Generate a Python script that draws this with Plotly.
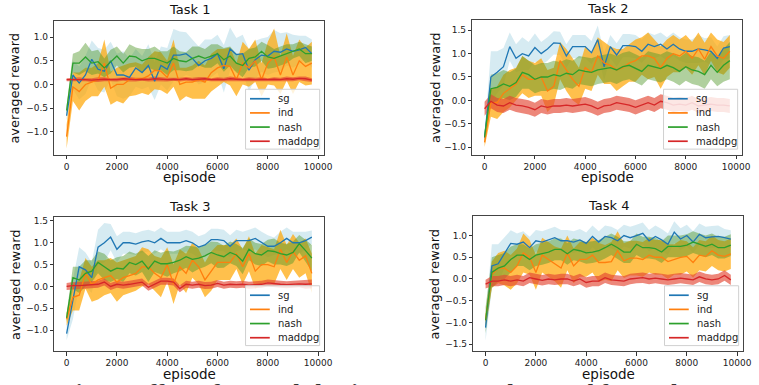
import plotly.graph_objects as go

episodes = list(range(0, 10000, 250))
series_names = ["sg", "ind", "nash", "maddpg"]
task_titles = ["Task 1", "Task 2", "Task 3", "Task 4"]
xtick_vals = [0, 2000, 4000, 6000, 8000, 10000]
xtick_text = ["0", "2000", "4000", "6000", "8000", "10000"]

# ---------------- Task 1 ----------------
t1_sg = [-0.66, 0.20, 0.03, 0.20, 0.53, 0.32, 0.28, 0.50, 0.20, 0.20, 0.15, 0.35, 0.25, 0.40, 0.07, 0.40, 0.32, 0.62, 0.62, 0.65,
         0.55, 0.40, 0.50, 0.55, 0.65, 0.33, 0.75, 0.63, 0.65, 0.30, 0.52, 0.62, 0.60, 0.70, 0.68, 0.75, 0.70, 0.73, 0.78, 0.65]
t1_sg_sd = [0.10, 0.30, 0.35, 0.40, 0.40, 0.45, 0.45, 0.40, 0.45, 0.50, 0.40, 0.40, 0.35, 0.45, 0.40, 0.40, 0.45, 0.55, 0.50, 0.45,
            0.40, 0.40, 0.45, 0.40, 0.40, 0.50, 0.45, 0.35, 0.40, 0.45, 0.40, 0.35, 0.40, 0.45, 0.40, 0.35, 0.35, 0.30, 0.25, 0.30]
t1_ind = [-1.10, -0.05, -0.15, 0.00, 0.05, 0.10, 0.45, -0.08, 0.00, 0.00, 0.10, 0.12, 0.12, 0.18, 0.30, 0.28, 0.15, 0.45, 0.00, 0.05,
          0.05, 0.10, 0.05, 0.25, 0.35, 0.40, 0.38, 0.10, 0.45, 0.35, 0.50, 0.10, 0.45, 0.58, 0.20, 0.58, 0.20, 0.50, 0.38, 0.45]
t1_ind_sd = [0.25, 0.30, 0.40, 0.35, 0.30, 0.35, 0.50, 0.35, 0.35, 0.40, 0.35, 0.35, 0.30, 0.40, 0.40, 0.40, 0.35, 0.50, 0.35, 0.30,
             0.35, 0.40, 0.35, 0.40, 0.40, 0.35, 0.40, 0.35, 0.45, 0.40, 0.45, 0.35, 0.45, 0.60, 0.40, 0.50, 0.40, 0.45, 0.40, 0.45]
t1_nash = [-0.55, 0.45, 0.45, 0.58, 0.45, 0.48, 0.35, 0.48, 0.60, 0.45, 0.60, 0.58, 0.50, 0.55, 0.55, 0.50, 0.45, 0.55, 0.50, 0.48,
           0.55, 0.60, 0.55, 0.60, 0.65, 0.52, 0.60, 0.45, 0.40, 0.55, 0.58, 0.70, 0.58, 0.55, 0.60, 0.65, 0.70, 0.75, 0.65, 0.65]
t1_nash_sd = [0.10, 0.20, 0.25, 0.30, 0.25, 0.25, 0.20, 0.25, 0.20, 0.20, 0.25, 0.20, 0.25, 0.20, 0.25, 0.20, 0.25, 0.25, 0.20, 0.20,
              0.25, 0.20, 0.20, 0.25, 0.20, 0.25, 0.20, 0.20, 0.25, 0.20, 0.20, 0.20, 0.25, 0.20, 0.20, 0.20, 0.15, 0.15, 0.20, 0.15]
t1_maddpg = [0.10, 0.10, 0.11, 0.10, 0.09, 0.10, 0.11, 0.10, 0.10, 0.12, 0.11, 0.10, 0.11, 0.10, 0.12, 0.11, 0.10, 0.11, 0.10, 0.12,
             0.10, 0.11, 0.12, 0.10, 0.11, 0.10, 0.12, 0.11, 0.10, 0.11, 0.10, 0.11, 0.10, 0.11, 0.10, 0.12, 0.11, 0.13, 0.12, 0.09]
t1_maddpg_sd = [0.03, 0.04, 0.04, 0.03, 0.04, 0.05, 0.04, 0.03, 0.04, 0.04, 0.05, 0.04, 0.03, 0.04, 0.05, 0.04, 0.04, 0.03, 0.04, 0.04,
                0.04, 0.05, 0.04, 0.03, 0.04, 0.04, 0.05, 0.04, 0.03, 0.04, 0.04, 0.04, 0.03, 0.04, 0.04, 0.05, 0.04, 0.04, 0.05, 0.04]

# ---------------- Task 2 ----------------
t2_sg = [-0.80, 0.50, 0.60, 0.72, 1.15, 0.90, 1.00, 0.95, 1.13, 1.00, 1.10, 1.23, 1.22, 0.95, 1.15, 1.15, 1.15, 1.02, 1.30, 0.72,
         1.15, 0.97, 1.17, 1.17, 1.15, 1.05, 1.20, 1.15, 1.20, 1.10, 1.20, 1.10, 1.05, 1.05, 1.10, 1.08, 1.05, 0.90, 1.12, 1.15]
t2_sg_sd = [0.10, 0.55, 0.45, 0.40, 0.30, 0.30, 0.35, 0.30, 0.30, 0.25, 0.25, 0.25, 0.25, 0.25, 0.25, 0.25, 0.25, 0.25, 0.30, 0.30,
            0.25, 0.25, 0.25, 0.25, 0.25, 0.25, 0.25, 0.25, 0.25, 0.25, 0.25, 0.25, 0.25, 0.25, 0.30, 0.25, 0.30, 0.25, 0.25, 0.25]
t2_ind = [-0.90, -0.05, -0.05, 0.15, 0.25, 0.35, 0.55, 0.45, 0.45, 0.50, 0.20, 0.30, 0.85, 0.65, 0.45, 0.30, 0.70, 0.60, 0.95, 0.80,
          0.75, 0.65, 0.70, 0.80, 0.85, 0.95, 0.95, 0.90, 0.70, 0.90, 1.00, 0.95, 1.05, 0.90, 1.10, 0.88, 1.15, 0.95, 0.90, 1.05]
t2_ind_sd = [0.10, 0.30, 0.35, 0.40, 0.40, 0.35, 0.40, 0.40, 0.35, 0.40, 0.45, 0.40, 0.40, 0.45, 0.45, 0.40, 0.45, 0.40, 0.40, 0.45,
             0.40, 0.45, 0.40, 0.40, 0.45, 0.40, 0.50, 0.40, 0.45, 0.40, 0.40, 0.35, 0.35, 0.35, 0.35, 0.35, 0.30, 0.35, 0.35, 0.35]
t2_nash = [-0.78, 0.25, 0.28, 0.35, 0.30, 0.38, 0.60, 0.55, 0.45, 0.50, 0.50, 0.55, 0.52, 0.58, 0.55, 0.65, 0.62, 0.60, 0.65, 0.68,
           0.70, 0.65, 0.72, 0.75, 0.68, 0.62, 0.75, 0.72, 0.68, 0.75, 0.70, 0.62, 0.72, 0.65, 0.62, 0.55, 0.75, 0.60, 0.75, 0.85]
t2_nash_sd = [0.10, 0.30, 0.30, 0.30, 0.30, 0.30, 0.35, 0.30, 0.30, 0.30, 0.30, 0.30, 0.30, 0.30, 0.30, 0.30, 0.30, 0.30, 0.30, 0.30,
              0.30, 0.30, 0.30, 0.30, 0.30, 0.30, 0.30, 0.30, 0.30, 0.30, 0.30, 0.30, 0.30, 0.30, 0.30, 0.30, 0.30, 0.30, 0.35, 0.40]
t2_maddpg = [-0.18, -0.02, -0.10, -0.12, -0.05, -0.10, -0.12, -0.15, -0.20, -0.12, -0.15, -0.12, -0.12, -0.10, -0.12, -0.10, -0.08, -0.12, -0.18, -0.12,
             -0.10, -0.05, -0.08, -0.10, -0.15, -0.10, -0.05, -0.10, -0.02, -0.05, -0.10, -0.08, -0.10, -0.05, -0.12, -0.10, -0.08, -0.10, -0.10, -0.12]
t2_maddpg_sd = [0.15, 0.15, 0.15, 0.15, 0.15, 0.15, 0.15, 0.15, 0.15, 0.15, 0.15, 0.15, 0.15, 0.15, 0.15, 0.15, 0.15, 0.15, 0.15, 0.15,
                0.15, 0.15, 0.15, 0.15, 0.15, 0.15, 0.15, 0.15, 0.15, 0.15, 0.15, 0.15, 0.15, 0.15, 0.15, 0.15, 0.15, 0.15, 0.15, 0.15]

# ---------------- Task 3 ----------------
t3_sg = [-1.08, -0.30, 0.45, 0.38, 0.20, 0.90, 1.00, 1.13, 0.85, 1.00, 1.00, 0.97, 1.02, 1.05, 1.00, 1.10, 1.00, 1.00, 1.00, 1.05,
         1.00, 0.90, 0.95, 1.07, 1.07, 1.05, 0.92, 1.05, 1.05, 1.05, 1.10, 1.00, 0.92, 0.92, 1.00, 1.10, 1.00, 1.00, 1.05, 1.13]
t3_sg_sd = [0.15, 0.45, 0.45, 0.40, 0.35, 0.40, 0.45, 0.30, 0.30, 0.25, 0.25, 0.25, 0.25, 0.25, 0.25, 0.25, 0.25, 0.25, 0.25, 0.25,
            0.25, 0.25, 0.25, 0.25, 0.25, 0.25, 0.25, 0.25, 0.20, 0.25, 0.25, 0.25, 0.25, 0.20, 0.25, 0.25, 0.25, 0.25, 0.20, 0.15]
t3_ind = [-0.75, -0.25, -0.20, 0.30, 0.05, 0.15, 0.20, 0.25, 0.10, 0.20, 0.25, 0.30, 0.45, 0.45, 0.30, 0.20, 0.50, 0.05, 0.45, 0.30,
          0.60, 0.45, 0.15, 0.35, 0.55, 0.55, 0.55, 0.75, 0.45, 0.75, 0.35, 0.50, 0.50, 0.45, 0.85, 0.55, 0.80, 0.60, 0.70, 0.30]
t3_ind_sd = [0.15, 0.30, 0.35, 0.35, 0.40, 0.45, 0.40, 0.40, 0.45, 0.40, 0.40, 0.40, 0.45, 0.40, 0.40, 0.45, 0.40, 0.45, 0.40, 0.45,
             0.40, 0.40, 0.40, 0.45, 0.40, 0.40, 0.40, 0.35, 0.40, 0.40, 0.40, 0.45, 0.40, 0.40, 0.45, 0.40, 0.40, 0.40, 0.40, 0.45]
t3_nash = [-0.72, 0.20, 0.15, 0.30, 0.35, 0.55, 0.45, 0.35, 0.42, 0.40, 0.55, 0.50, 0.58, 0.40, 0.58, 0.52, 0.52, 0.55, 0.60, 0.68,
           0.62, 0.65, 0.70, 0.78, 0.72, 0.68, 0.78, 0.72, 0.58, 0.85, 0.75, 0.72, 0.82, 0.80, 0.75, 0.72, 0.78, 0.98, 0.82, 0.65]
t3_nash_sd = [0.10, 0.25, 0.30, 0.30, 0.25, 0.25, 0.30, 0.25, 0.25, 0.30, 0.25, 0.25, 0.25, 0.30, 0.25, 0.25, 0.30, 0.25, 0.25, 0.25,
              0.30, 0.25, 0.25, 0.25, 0.30, 0.25, 0.25, 0.25, 0.30, 0.25, 0.25, 0.25, 0.25, 0.30, 0.25, 0.25, 0.25, 0.20, 0.25, 0.30]
t3_maddpg = [0.00, 0.02, 0.02, 0.03, 0.04, 0.05, 0.10, 0.00, 0.05, 0.03, 0.05, 0.07, 0.10, -0.02, 0.05, 0.12, 0.12, 0.10, -0.05, 0.05,
             0.03, 0.05, 0.02, 0.03, 0.07, 0.03, 0.05, 0.04, 0.05, 0.03, 0.04, 0.05, 0.08, 0.06, 0.05, 0.04, 0.05, 0.06, 0.05, 0.06]
t3_maddpg_sd = [0.08, 0.08, 0.08, 0.08, 0.08, 0.08, 0.08, 0.08, 0.08, 0.08, 0.08, 0.08, 0.08, 0.08, 0.08, 0.08, 0.08, 0.08, 0.08, 0.08,
                0.08, 0.08, 0.08, 0.08, 0.08, 0.08, 0.08, 0.08, 0.08, 0.08, 0.08, 0.08, 0.08, 0.08, 0.08, 0.08, 0.08, 0.08, 0.10, 0.10]

# ---------------- Task 4 ----------------
t4_sg = [-1.12, 0.30, 0.35, 0.60, 0.82, 0.80, 0.85, 0.72, 0.88, 0.85, 0.90, 0.95, 0.88, 0.88, 0.85, 0.90, 0.82, 0.98, 0.85, 0.98,
         0.95, 0.88, 1.00, 0.95, 1.00, 1.05, 0.88, 0.98, 0.90, 0.80, 1.08, 0.92, 1.00, 0.85, 1.03, 0.95, 0.97, 0.98, 0.95, 0.92]
t4_sg_sd = [0.30, 0.50, 0.45, 0.35, 0.30, 0.25, 0.25, 0.25, 0.25, 0.25, 0.25, 0.25, 0.25, 0.25, 0.25, 0.25, 0.25, 0.25, 0.25, 0.25,
            0.25, 0.25, 0.25, 0.25, 0.25, 0.25, 0.25, 0.25, 0.25, 0.25, 0.25, 0.25, 0.25, 0.25, 0.25, 0.25, 0.25, 0.25, 0.20, 0.20]
t4_ind = [-0.95, 0.10, 0.25, 0.25, 0.15, 0.30, 0.60, 0.50, 0.15, 0.55, 0.45, 0.35, 0.25, 0.60, 0.30, 0.45, 0.45, 0.55, 0.38, 0.38,
          0.40, 0.65, 0.42, 0.48, 0.48, 0.45, 0.55, 0.50, 0.50, 0.40, 0.45, 0.50, 0.52, 0.38, 0.55, 0.52, 0.65, 0.55, 0.52, 0.58]
t4_ind_sd = [0.15, 0.30, 0.35, 0.40, 0.40, 0.40, 0.45, 0.40, 0.40, 0.40, 0.40, 0.40, 0.45, 0.40, 0.40, 0.40, 0.40, 0.40, 0.45, 0.40,
             0.45, 0.45, 0.40, 0.40, 0.40, 0.40, 0.40, 0.40, 0.40, 0.40, 0.35, 0.40, 0.35, 0.35, 0.35, 0.35, 0.35, 0.35, 0.35, 0.35]
t4_nash = [-0.95, 0.15, 0.25, 0.30, 0.45, 0.55, 0.55, 0.45, 0.55, 0.58, 0.62, 0.68, 0.68, 0.58, 0.68, 0.65, 0.60, 0.62, 0.65, 0.72,
           0.80, 0.72, 0.62, 0.62, 0.80, 0.72, 0.72, 0.70, 0.62, 0.75, 0.75, 0.75, 0.78, 0.85, 0.80, 0.75, 0.80, 0.72, 0.72, 0.78]
t4_nash_sd = [0.30, 0.35, 0.30, 0.30, 0.30, 0.25, 0.25, 0.25, 0.25, 0.25, 0.25, 0.25, 0.25, 0.25, 0.25, 0.25, 0.25, 0.25, 0.25, 0.25,
              0.25, 0.25, 0.25, 0.25, 0.25, 0.25, 0.25, 0.25, 0.25, 0.25, 0.25, 0.25, 0.25, 0.25, 0.25, 0.25, 0.25, 0.25, 0.25, 0.25]
t4_maddpg = [-0.12, -0.05, -0.05, -0.02, -0.05, -0.02, -0.05, 0.03, 0.00, -0.03, 0.00, -0.02, 0.00, 0.00, -0.05, 0.00, -0.08, -0.05, -0.05, 0.03,
             -0.02, -0.03, -0.05, 0.00, 0.02, 0.03, 0.00, 0.02, 0.00, -0.02, 0.00, 0.02, 0.00, -0.02, 0.05, 0.00, -0.02, 0.00, 0.08, -0.02]
t4_maddpg_sd = [0.10, 0.12, 0.12, 0.12, 0.12, 0.12, 0.12, 0.12, 0.12, 0.12, 0.12, 0.12, 0.12, 0.12, 0.12, 0.12, 0.12, 0.12, 0.12, 0.12,
                0.12, 0.12, 0.12, 0.12, 0.12, 0.12, 0.12, 0.12, 0.12, 0.12, 0.12, 0.12, 0.12, 0.12, 0.12, 0.12, 0.12, 0.12, 0.12, 0.12]

tasks = [
    [(t1_sg, t1_sg_sd), (t1_ind, t1_ind_sd), (t1_nash, t1_nash_sd), (t1_maddpg, t1_maddpg_sd)],
    [(t2_sg, t2_sg_sd), (t2_ind, t2_ind_sd), (t2_nash, t2_nash_sd), (t2_maddpg, t2_maddpg_sd)],
    [(t3_sg, t3_sg_sd), (t3_ind, t3_ind_sd), (t3_nash, t3_nash_sd), (t3_maddpg, t3_maddpg_sd)],
    [(t4_sg, t4_sg_sd), (t4_ind, t4_ind_sd), (t4_nash, t4_nash_sd), (t4_maddpg, t4_maddpg_sd)],
]

caption = "Fig. 1: Effect of reward sharing on averaged reward for Tasks 1-4"

# ---------------- styling ----------------
W, H = 759, 385
line_colors = ["#1f77b4", "#ff7f0e", "#2ca02c", "#d62728"]
fill_colors = ["rgba(173,216,230,0.5)", "rgba(255,165,0,0.7)", "rgba(80,150,40,0.45)", "rgba(228,70,50,0.65)"]

# plot areas in pixels: (left, right, top, bottom)
boxes = [(55, 328, 20, 154), (478, 751, 19, 154), (55, 328, 217, 351), (479, 752, 216, 351)]
y_ranges = [[-1.48, 1.34], [-1.16, 1.72], [-1.48, 1.58], [-1.66, 1.44]]
y_ticks = [[-1.0, -0.5, 0.0, 0.5, 1.0], [-1.0, -0.5, 0.0, 0.5, 1.0, 1.5],
           [-1.0, -0.5, 0.0, 0.5, 1.0, 1.5], [-1.5, -1.0, -0.5, 0.0, 0.5, 1.0]]
ylabel_x = [15, 440, 15, 440]
x_range = [-487.5, 10237.5]
FONT = "DejaVu Sans"


def px(x):
    return x / W


def py(y):
    return 1 - y / H


fig = go.Figure()
layout = dict(
    width=W, height=H, margin=dict(l=0, r=0, t=0, b=0),
    paper_bgcolor="white", plot_bgcolor="white", showlegend=False,
    font=dict(family=FONT, color="#222"),
)
annotations = []
shapes = []

for i, series in enumerate(tasks):
    l, r, t, b = boxes[i]
    xa = "xaxis" if i == 0 else f"xaxis{i+1}"
    ya = "yaxis" if i == 0 else f"yaxis{i+1}"
    xref = "x" if i == 0 else f"x{i+1}"
    yref = "y" if i == 0 else f"y{i+1}"

    for k, (mean, sd) in enumerate(series):
        upper = [m + s for m, s in zip(mean, sd)]
        lower = [m - s for m, s in zip(mean, sd)]
        fig.add_trace(go.Scatter(
            x=episodes + episodes[::-1], y=upper + lower[::-1],
            fill="toself", fillcolor=fill_colors[k], line=dict(width=0),
            mode="lines", hoverinfo="skip", showlegend=False,
            xaxis=xref, yaxis=yref,
        ))
    for k, (mean, sd) in enumerate(series):
        fig.add_trace(go.Scatter(
            x=episodes, y=mean, mode="lines", name=series_names[k],
            line=dict(color=line_colors[k], width=1.3),
            xaxis=xref, yaxis=yref, showlegend=False,
        ))

    layout[xa] = dict(
        domain=[px(l), px(r)], anchor=yref, range=x_range,
        tickvals=xtick_vals, ticktext=xtick_text, ticks="outside", ticklen=3.5, tickwidth=0.8, tickcolor="#333",
        showgrid=False, zeroline=False, showline=True, linecolor="#444", linewidth=0.9, mirror=True,
        tickfont=dict(size=9, family=FONT, color="#222"),
    )
    layout[ya] = dict(
        domain=[py(b), py(t)], anchor=xref, range=y_ranges[i],
        tickvals=y_ticks[i], tickformat=".1f", ticks="outside", ticklen=3.5, tickwidth=0.8, tickcolor="#333",
        showgrid=False, zeroline=False, showline=True, linecolor="#444", linewidth=0.9, mirror=True,
        tickfont=dict(size=9, family=FONT, color="#222"),
    )
    # subplot title
    annotations.append(dict(
        text=task_titles[i], x=px((l + r) / 2), y=py(t - 11),
        xref="paper", yref="paper", xanchor="center", yanchor="middle",
        showarrow=False, font=dict(size=13, family=FONT, color="#111"),
    ))
    # axis titles
    annotations.append(dict(
        text="episode", x=px((l + r) / 2), y=py(b + 22.5),
        xref="paper", yref="paper", xanchor="center", yanchor="middle",
        showarrow=False, font=dict(size=13.5, family=FONT, color="#111"),
    ))
    annotations.append(dict(
        text="averaged reward", x=px(ylabel_x[i]), y=py((t + b) / 2), textangle=-90,
        xref="paper", yref="paper", xanchor="center", yanchor="middle",
        showarrow=False, font=dict(size=13, family=FONT, color="#111"),
    ))
    # legend box (bottom right of each panel)
    lr, lb = r - 4.5, b - 5.5
    ll, lt = lr - 75, lb - 60
    shapes.append(dict(
        type="rect", xref="paper", yref="paper",
        x0=px(ll), x1=px(lr), y0=py(lb), y1=py(lt),
        fillcolor="rgba(255,255,255,0.8)", line=dict(color="#d0d0d0", width=1), layer="above",
    ))
    for k, name in enumerate(series_names):
        yy = lt + 9.5 + k * 14.2
        shapes.append(dict(
            type="line", xref="paper", yref="paper",
            x0=px(ll + 4.5), x1=px(ll + 24.5), y0=py(yy), y1=py(yy),
            line=dict(color=line_colors[k], width=1.7), layer="above",
        ))
        annotations.append(dict(
            text=name, x=px(ll + 30.5), y=py(yy),
            xref="paper", yref="paper", xanchor="left", yanchor="middle",
            showarrow=False, font=dict(size=10, family=FONT, color="#222"),
        ))

# caption of the source figure: only its top edge is visible at the bottom of the image
annotations.append(dict(
    text="<b>" + caption + "</b>",
    x=px(60), y=py(377), xref="paper", yref="paper", xanchor="left", yanchor="top",
    showarrow=False, font=dict(size=24, family="Liberation Serif", color="#333"),
))
layout["annotations"] = annotations
layout["shapes"] = shapes
fig.update_layout(**layout)
fig.write_html("out.html")
